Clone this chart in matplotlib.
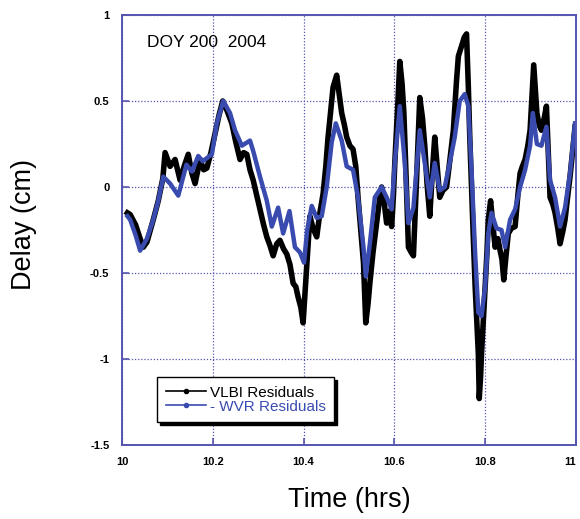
import matplotlib.pyplot as plt
from matplotlib.lines import Line2D

plt.rcParams['font.family'] = ['Liberation Sans', 'DejaVu Sans']

# --------------------------
# Data
# --------------------------
vlbi_t = [10.012, 10.018, 10.030, 10.040, 10.047, 10.055, 10.069, 10.080, 10.090, 10.095,
          10.106, 10.117, 10.128, 10.137, 10.146, 10.154, 10.161, 10.172, 10.180, 10.187,
          10.196, 10.205, 10.214, 10.222, 10.232, 10.242, 10.250, 10.260, 10.268, 10.275,
          10.282, 10.289, 10.297, 10.304, 10.312, 10.319, 10.326, 10.333, 10.341, 10.348,
          10.356, 10.363, 10.370, 10.377, 10.383, 10.388, 10.394, 10.399, 10.403, 10.407,
          10.414, 10.421, 10.429, 10.436, 10.443, 10.449, 10.454, 10.460, 10.465, 10.473,
          10.478, 10.484, 10.490, 10.495, 10.502, 10.509, 10.515, 10.520, 10.526, 10.532,
          10.537, 10.542, 10.546, 10.553, 10.561, 10.567, 10.572, 10.578, 10.583, 10.589,
          10.594, 10.598, 10.601, 10.607, 10.612, 10.617, 10.621, 10.626, 10.631, 10.637,
          10.642, 10.649, 10.656, 10.662, 10.667, 10.672, 10.678, 10.684, 10.689, 10.695,
          10.700, 10.707, 10.715, 10.722, 10.730, 10.737, 10.741, 10.748, 10.754, 10.759,
          10.763, 10.766, 10.770, 10.774, 10.778, 10.782, 10.785, 10.787, 10.790, 10.792,
          10.796, 10.800, 10.804, 10.807, 10.812, 10.817, 10.822, 10.828, 10.833, 10.837,
          10.841, 10.846, 10.851, 10.858, 10.866, 10.872, 10.877, 10.882, 10.888, 10.894,
          10.899, 10.903, 10.907, 10.911, 10.914, 10.919, 10.924, 10.930, 10.935, 10.939,
          10.943, 10.949, 10.954, 10.960, 10.965, 10.971, 10.976, 10.982, 10.987, 10.993,
          10.998]
vlbi_d = [-0.15, -0.16, -0.22, -0.30, -0.35, -0.32, -0.19, -0.08, 0.05, 0.20,
          0.12, 0.16, 0.04, 0.12, 0.19, 0.08, 0.02, 0.16, 0.10, 0.11,
          0.20, 0.31, 0.42, 0.50, 0.44, 0.37, 0.27, 0.16, 0.20, 0.19,
          0.10, 0.04, -0.05, -0.13, -0.22, -0.29, -0.34, -0.40, -0.33, -0.31,
          -0.36, -0.39, -0.45, -0.56, -0.58, -0.64, -0.70, -0.79, -0.62, -0.46,
          -0.17, -0.24, -0.29, -0.15, -0.04, 0.12, 0.29, 0.45, 0.58, 0.65,
          0.55, 0.43, 0.36, 0.29, 0.24, 0.22, 0.12, -0.06, -0.25, -0.44,
          -0.79, -0.68, -0.56, -0.38, -0.21, -0.08, 0.00, -0.10, -0.21, -0.14,
          -0.23, -0.05, 0.14, 0.45, 0.73, 0.60, 0.43, 0.05, -0.35, -0.38,
          -0.40, 0.05, 0.52, 0.40, 0.24, 0.02, -0.17, 0.10, 0.29, 0.10,
          -0.06, -0.02, 0.00, 0.15, 0.33, 0.62, 0.76, 0.82, 0.87, 0.89,
          0.58, 0.30, 0.00, -0.30, -0.58, -0.80, -0.97, -1.23, -1.10, -0.97,
          -0.78, -0.58, -0.38, -0.19, -0.08, -0.22, -0.35, -0.30, -0.37, -0.42,
          -0.54, -0.40, -0.27, -0.24, -0.23, -0.05, 0.08, 0.12, 0.16, 0.24,
          0.33, 0.52, 0.71, 0.55, 0.43, 0.36, 0.33, 0.40, 0.47, 0.20,
          -0.06, -0.10, -0.15, -0.24, -0.33, -0.26, -0.19, -0.05, 0.06, 0.22,
          0.35]

wvr_t = [10.012, 10.018, 10.030, 10.040, 10.055, 10.069, 10.080, 10.091, 10.106, 10.124,
         10.142, 10.154, 10.168, 10.178, 10.198, 10.209, 10.223, 10.238, 10.249, 10.264,
         10.282, 10.289, 10.304, 10.319, 10.330, 10.344, 10.355, 10.369, 10.381, 10.392,
         10.401, 10.408, 10.418, 10.429, 10.440, 10.451, 10.462, 10.471, 10.484, 10.495,
         10.509, 10.520, 10.532, 10.537, 10.546, 10.557, 10.572, 10.583, 10.594, 10.601,
         10.612, 10.623, 10.631, 10.642, 10.656, 10.667, 10.678, 10.689, 10.700, 10.711,
         10.722, 10.733, 10.744, 10.755, 10.763, 10.770, 10.778, 10.785, 10.792, 10.800,
         10.807, 10.814, 10.825, 10.836, 10.844, 10.855, 10.866, 10.877, 10.888, 10.899,
         10.905, 10.914, 10.924, 10.935, 10.943, 10.954, 10.965, 10.976, 10.987, 10.998]
wvr_d = [-0.17, -0.19, -0.28, -0.37, -0.30, -0.19, -0.08, 0.06, 0.02, -0.05,
         0.13, 0.09, 0.18, 0.15, 0.19, 0.37, 0.50, 0.43, 0.33, 0.24,
         0.27, 0.21, 0.06, -0.08, -0.23, -0.12, -0.27, -0.14, -0.35, -0.38,
         -0.44, -0.25, -0.11, -0.18, -0.17, 0.00, 0.26, 0.37, 0.27, 0.12,
         0.10, -0.06, -0.35, -0.52, -0.33, -0.06, 0.00, -0.06, -0.13, 0.14,
         0.47, 0.14, -0.21, -0.12, 0.33, 0.14, -0.06, 0.14, -0.02, 0.00,
         0.14, 0.29, 0.50, 0.54, 0.47, 0.10, -0.39, -0.73, -0.75, -0.58,
         -0.27, -0.15, -0.24, -0.25, -0.35, -0.19, -0.13, 0.00, 0.10, 0.24,
         0.43, 0.25, 0.24, 0.35, 0.04, -0.06, -0.23, -0.12, 0.08, 0.37]

x_ticks = [10, 10.2, 10.4, 10.6, 10.8, 11]
x_labels = ["10", "10.2", "10.4", "10.6", "10.8", "11"]
y_ticks = [-1.5, -1, -0.5, 0, 0.5, 1]
y_labels = ["-1.5", "-1", "-0.5", "0", "0.5", "1"]

# --------------------------
# Plot
# --------------------------
frame_col = "#5555b0"
blue = "#3a4bb0"

fig = plt.figure(figsize=(5.8, 5.19), dpi=100)
ax = fig.add_axes([0.2103, 0.1426, 0.7827, 0.8285])

ax.plot(vlbi_t, vlbi_d, color="black", lw=4.0, solid_joinstyle="round")
ax.plot(wvr_t, wvr_d, color=blue, lw=3.2, solid_joinstyle="round")

ax.set_xlim(10, 11)
ax.set_ylim(-1.5, 1)
ax.set_xticks(x_ticks)
ax.set_xticklabels(x_labels)
ax.set_yticks(y_ticks)
ax.set_yticklabels(y_labels)

ax.grid(True, color=frame_col, linestyle=(0, (1, 1.5)), linewidth=0.9)
for s in ax.spines.values():
    s.set_color(frame_col)
    s.set_linewidth(1.4)
ax.tick_params(direction="in", length=5, width=1.2, color=frame_col,
               labelsize=8, pad=9)
for lab in ax.get_xticklabels() + ax.get_yticklabels():
    lab.set_fontweight("bold")
# last x label sits right at the figure edge, as in the original
ax.get_xticklabels()[-1].set_horizontalalignment("right")

ax.set_xlabel("Time (hrs)", fontsize=19.5, labelpad=14)
ax.set_ylabel("Delay (cm)", fontsize=19.5)
ax.yaxis.set_label_coords(-0.187, 0.512)

ax.text(0.055, 0.937, "DOY 200  2004", transform=ax.transAxes,
        fontsize=12.5, va="center", ha="left")

handles = [Line2D([], [], color="black", lw=1.2, marker="o", ms=3),
           Line2D([], [], color=blue, lw=1.2, marker="o", ms=3)]
leg = ax.legend(handles, ["VLBI Residuals", "- WVR Residuals"],
                loc="lower left", bbox_to_anchor=(0.078, 0.053),
                fancybox=False, edgecolor="black", framealpha=1,
                shadow={"color": "black", "alpha": 1},
                fontsize=11, handlelength=2.6, handletextpad=0.3,
                borderpad=0.55, labelspacing=0.0, numpoints=1,
                borderaxespad=0.0)
leg.get_frame().set_linewidth(1.0)
leg.get_texts()[1].set_color(blue)

fig.savefig("out.png", dpi=100)
